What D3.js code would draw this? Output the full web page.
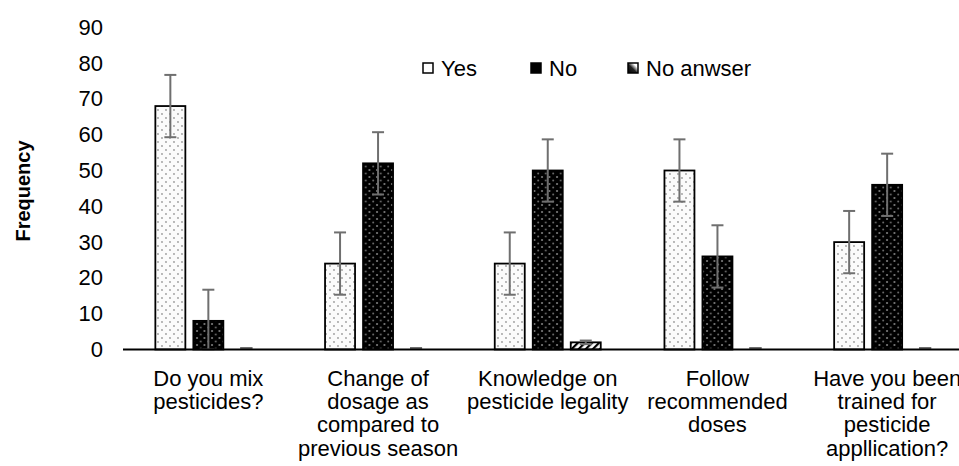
<!DOCTYPE html>
<html>
<head>
<meta charset="utf-8">
<script src="https://cdn.jsdelivr.net/npm/d3@7"></script>
<style>
  body { margin: 0; background: #fff; }
  svg { display: block; overflow: hidden; }
  text { font-family: "Liberation Sans", Arial, sans-serif; fill: #000; }
</style>
</head>
<body>
<div class="visual"></div>
<script>
const categories = [
  ["Do you mix", "pesticides?"],
  ["Change of", "dosage as", "compared to", "previous season"],
  ["Knowledge on", "pesticide legality"],
  ["Follow", "recommended", "doses"],
  ["Have you been", "trained for", "pesticide", "appllication?"]
];
const seriesNames = ["Yes", "No", "No anwser"];
const yesValues = [68, 24, 24, 50, 30];
const noValues = [8, 52, 50, 26, 46];
const naValues = [0, 0, 2, 0, 0];
const yesErr = [8.7, 8.7, 8.7, 8.7, 8.7];
const noErr = [8.7, 8.7, 8.7, 8.7, 8.7];
const naErr = [0, 0, 0.5, 0, 0];
const yTicks = [0, 10, 20, 30, 40, 50, 60, 70, 80, 90];

const width = 959, height = 466;

const svg = d3.select(".visual").append("svg")
  .attr("width", width)
  .attr("height", height);

// patterns
const defs = svg.append("defs");
const pYes = defs.append("pattern").attr("id", "pYes")
  .attr("patternUnits", "userSpaceOnUse").attr("width", 8).attr("height", 8);
pYes.append("rect").attr("width", 8).attr("height", 8).attr("fill", "#fbfbfb");
pYes.append("circle").attr("cx", 2).attr("cy", 2).attr("r", 0.9).attr("fill", "#9a9a9a");
pYes.append("circle").attr("cx", 6).attr("cy", 6).attr("r", 0.9).attr("fill", "#9a9a9a");

const pNo = defs.append("pattern").attr("id", "pNo")
  .attr("patternUnits", "userSpaceOnUse").attr("width", 7.5).attr("height", 7);
pNo.append("rect").attr("width", 7.5).attr("height", 7).attr("fill", "#000");
pNo.append("circle").attr("cx", 2).attr("cy", 2).attr("r", 1).attr("fill", "#8a8a8a");
pNo.append("circle").attr("cx", 5.75).attr("cy", 5.5).attr("r", 1).attr("fill", "#6a6a6a");

const pNa = defs.append("pattern").attr("id", "pNa")
  .attr("patternUnits", "userSpaceOnUse").attr("width", 5).attr("height", 5)
  .attr("patternTransform", "rotate(-45)");
pNa.append("rect").attr("width", 5).attr("height", 5).attr("fill", "#fff");
pNa.append("rect").attr("width", 5).attr("height", 2.2).attr("fill", "#000");

const gNa = defs.append("linearGradient").attr("id", "gNa")
  .attr("x1", 0).attr("y1", 1).attr("x2", 1).attr("y2", 0);
gNa.append("stop").attr("offset", "0%").attr("stop-color", "#000");
gNa.append("stop").attr("offset", "45%").attr("stop-color", "#222");
gNa.append("stop").attr("offset", "75%").attr("stop-color", "#fff");

const fills = ["url(#pYes)", "url(#pNo)", "url(#pNa)"];
const legendFills = ["#fff", "#000", "url(#gNa)"];

const x0 = d3.scaleBand()
  .domain(d3.range(categories.length))
  .range([123.5, 972]);

const x1 = d3.scaleBand()
  .domain(d3.range(seriesNames.length))
  .range([-53, 53])
  .paddingInner(8 / 38);

const y = d3.scaleLinear()
  .domain([0, 90])
  .range([349.5, 27.3]);

// y tick labels
svg.append("g").selectAll("text")
  .data(yTicks)
  .enter()
  .append("text")
  .attr("x", 103)
  .attr("y", d => y(d))
  .attr("text-anchor", "end")
  .attr("dominant-baseline", "central")
  .style("font-size", "22px")
  .text(d => d);

// axis title
svg.append("text")
  .attr("transform", `translate(23, 191) rotate(-90)`)
  .attr("text-anchor", "middle")
  .attr("dominant-baseline", "central")
  .style("font-size", "20px")
  .style("font-weight", "bold")
  .text("Frequency");

const allValues = [yesValues, noValues, naValues];
const allErr = [yesErr, noErr, naErr];
const rows = [];
categories.forEach((c, i) => {
  seriesNames.forEach((s, j) => {
    rows.push({ cat: i, s: j, value: allValues[j][i], err: allErr[j][i] });
  });
});

const groups = svg.append("g");

groups.selectAll("rect")
  .data(rows.filter(d => d.value > 0))
  .enter()
  .append("rect")
  .attr("x", d => x0(d.cat) + x0.bandwidth() / 2 + x1(d.s))
  .attr("y", d => y(d.value))
  .attr("width", x1.bandwidth())
  .attr("height", d => y(0) - y(d.value))
  .attr("fill", d => fills[d.s])
  .attr("stroke", "#000")
  .attr("stroke-width", 1.8);

// error bars
const errG = svg.append("g")
  .attr("stroke", "#6f6f6f")
  .attr("stroke-width", 2);

rows.forEach(d => {
  const cx = x0(d.cat) + x0.bandwidth() / 2 + x1(d.s) + x1.bandwidth() / 2;
  const lo = Math.max(0, d.value - d.err);
  const hi = d.value + d.err;
  const shift = d.value === 0 ? 1.5 : 0;
  errG.append("line")
    .attr("x1", cx).attr("x2", cx)
    .attr("y1", y(lo)).attr("y2", y(hi));
  errG.append("line")
    .attr("x1", cx - 6).attr("x2", cx + 6)
    .attr("y1", y(hi) - shift).attr("y2", y(hi) - shift);
  errG.append("line")
    .attr("x1", cx - 6).attr("x2", cx + 6)
    .attr("y1", y(lo) - shift).attr("y2", y(lo) - shift);
});

// x axis line
svg.append("line")
  .attr("x1", 123).attr("x2", 972)
  .attr("y1", y(0)).attr("y2", y(0))
  .attr("stroke", "#000")
  .attr("stroke-width", 2);

// category labels
const catG = svg.append("g");
categories.forEach((lines, i) => {
  const t = catG.append("text")
    .attr("text-anchor", "middle")
    .style("font-size", "22px");
  lines.forEach((l, k) => {
    t.append("tspan")
      .attr("x", x0(i) + x0.bandwidth() / 2)
      .attr("y", 386 + k * 23.2)
      .text(l);
  });
});

// legend
const legendX = [423, 531, 628];
const legend = svg.append("g");
seriesNames.forEach((s, j) => {
  legend.append("rect")
    .attr("x", legendX[j])
    .attr("y", 63)
    .attr("width", 10)
    .attr("height", 10)
    .attr("fill", legendFills[j])
    .attr("stroke", "#000")
    .attr("stroke-width", 1.5);
  legend.append("text")
    .attr("x", legendX[j] + 18)
    .attr("y", 68.5)
    .attr("dominant-baseline", "central")
    .style("font-size", "22px")
    .text(s);
});
</script>
</body>
</html>
